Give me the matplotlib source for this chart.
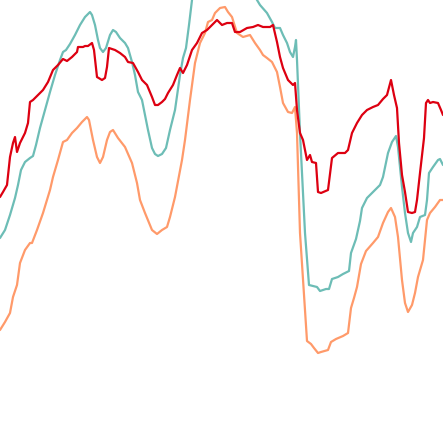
import matplotlib
matplotlib.use("Agg")
import matplotlib.pyplot as plt

# x positions (trading-day index) and levels for each series
upper_x = [0, 5, 10, 15, 18, 21, 25, 30, 33, 36, 40, 45, 50, 55, 60, 63, 66, 70, 75, 80, 85, 90, 92, 95, 98, 100, 103, 106, 110, 113, 116, 120, 125, 128, 132, 135, 138, 142, 145, 148, 152, 155, 158, 162, 166, 170, 175, 180, 183, 186, 189, 192, 196, 200, 210, 220, 230, 240, 250, 257, 260, 267, 272, 275, 280, 283, 287, 290, 293, 295, 296, 297, 300, 305, 309, 313, 317, 320, 323, 326, 329, 332, 338, 343, 349, 351, 356, 360, 362, 367, 373, 380, 383, 388, 392, 396, 398, 402, 405, 408, 411, 413, 417, 420, 425, 427, 429, 433, 438, 440, 443]
upper_v = [205, 213, 228, 245, 258, 273, 281, 285, 287, 298, 315, 333, 351, 368, 383, 391, 393, 399, 408, 418, 426, 431, 428, 418, 403, 395, 391, 395, 408, 413, 411, 405, 400, 395, 381, 368, 351, 343, 328, 313, 295, 289, 287, 289, 295, 313, 333, 368, 385, 395, 418, 443, 458, 473, 488, 495, 493, 478, 455, 443, 438, 430, 421, 415, 415, 408, 400, 391, 386, 396, 403, 383, 310, 210, 158, 157, 156, 152, 153, 154, 154, 164, 166, 169, 172, 190, 204, 222, 235, 245, 251, 258, 266, 290, 301, 307, 296, 256, 230, 210, 201, 210, 216, 226, 228, 243, 270, 276, 283, 284, 278]

lower_x = [0, 5, 10, 13, 17, 20, 25, 30, 32, 37, 43, 50, 53, 58, 63, 67, 72, 77, 82, 87, 89, 93, 97, 100, 103, 107, 110, 113, 118, 125, 132, 137, 140, 145, 152, 157, 162, 167, 170, 175, 182, 185, 190, 195, 200, 205, 208, 212, 215, 220, 225, 228, 232, 237, 243, 250, 255, 260, 263, 267, 272, 277, 280, 283, 288, 292, 295, 297, 300, 307, 311, 314, 318, 321, 328, 331, 336, 343, 348, 351, 354, 357, 361, 366, 373, 378, 383, 388, 391, 395, 398, 402, 405, 408, 412, 415, 418, 423, 427, 430, 435, 440, 443]
lower_v = [113, 121, 130, 146, 158, 180, 193, 200, 200, 213, 230, 253, 266, 283, 301, 303, 310, 315, 321, 326, 323, 303, 286, 280, 286, 303, 311, 313, 305, 296, 280, 260, 243, 230, 213, 209, 213, 216, 226, 246, 283, 303, 343, 380, 400, 410, 421, 423, 430, 435, 436, 431, 426, 410, 406, 408, 400, 393, 388, 385, 381, 371, 356, 340, 331, 330, 336, 310, 210, 102, 99, 95, 90, 91, 93, 101, 104, 107, 110, 135, 145, 156, 179, 192, 200, 206, 220, 231, 235, 226, 206, 163, 140, 131, 138, 150, 166, 183, 223, 230, 236, 243, 243]

price_x = [0, 3, 7, 10, 13, 15, 17, 20, 25, 28, 30, 33, 38, 43, 48, 53, 58, 63, 67, 72, 77, 78, 83, 85, 88, 92, 94, 97, 102, 105, 107, 109, 115, 120, 125, 128, 133, 138, 142, 147, 152, 155, 158, 162, 165, 168, 173, 177, 180, 183, 187, 192, 197, 202, 207, 212, 217, 222, 227, 232, 235, 240, 247, 253, 258, 263, 270, 273, 277, 280, 283, 288, 293, 295, 297, 300, 303, 307, 310, 312, 316, 318, 321, 328, 332, 338, 345, 348, 352, 357, 362, 367, 373, 378, 383, 387, 391, 394, 397, 399, 402, 405, 408, 412, 415, 417, 420, 424, 426, 428, 430, 433, 438, 441, 443]
price_v = [246, 251, 258, 286, 300, 306, 291, 300, 310, 320, 341, 343, 348, 353, 361, 373, 378, 384, 382, 386, 391, 396, 396, 397, 397, 400, 393, 366, 363, 365, 376, 395, 393, 390, 386, 381, 380, 371, 363, 358, 346, 338, 338, 341, 344, 350, 358, 368, 375, 370, 378, 393, 400, 410, 413, 418, 423, 418, 420, 420, 411, 411, 415, 416, 418, 416, 416, 418, 401, 386, 375, 363, 358, 360, 333, 310, 303, 283, 288, 281, 280, 251, 250, 253, 285, 290, 290, 293, 310, 320, 328, 333, 336, 338, 344, 348, 363, 348, 335, 300, 268, 251, 231, 230, 231, 243, 270, 305, 340, 343, 340, 341, 340, 333, 328]

fig = plt.figure(figsize=(4.43, 4.43), dpi=100)
ax = fig.add_axes([0, 0, 1, 1])
kw = dict(linewidth=1.6, solid_joinstyle="round", solid_capstyle="round")
ax.plot(upper_x, upper_v, color="#6dbdb6", **kw)
ax.plot(lower_x, lower_v, color="#ff9a6a", **kw)
ax.plot(price_x, price_v, color="#dd0011", **kw)
ax.set_xlim(0, 443)
ax.set_ylim(0, 443)
ax.axis("off")
fig.savefig("out.png", dpi=100, facecolor="white")
